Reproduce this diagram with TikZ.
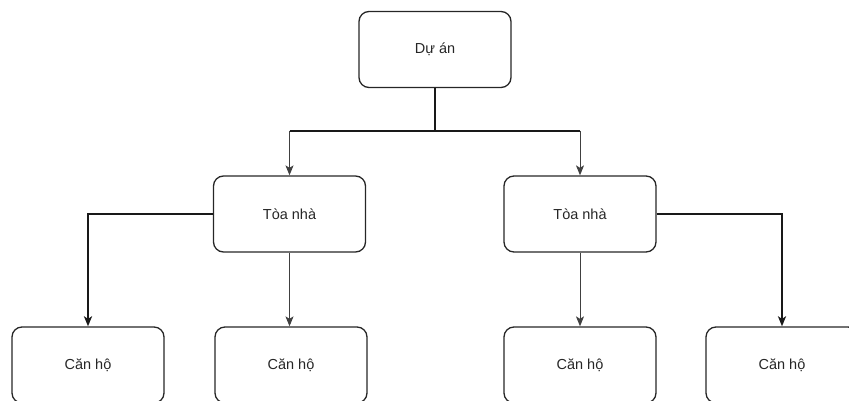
\documentclass[tikz,border=0pt]{standalone}
\usepackage{fontspec}
\setmainfont{Liberation Sans}
\usetikzlibrary{arrows.meta}
\begin{document}
\begin{tikzpicture}[x=1pt,y=-1pt,
  box/.style={draw=black!85, line width=1.3pt, rounded corners=10pt,
    minimum width=152pt, minimum height=76pt, inner sep=0pt,
    font=\fontsize{14.5}{17}\selectfont, text=black!85},
  thin/.style={draw=black!75, line width=1pt},
  thick/.style={draw=black!90, line width=2pt},
  tip/.style={-{Stealth[length=10pt,width=8pt,inset=2.5pt]}}]
\useasboundingbox (0,0) rectangle (849,401);
\begin{scope}
\clip (0,0) rectangle (849,401);
% nodes
\node[box] (proj) at (435,49.5) {Dự án};
\node[box] (b1) at (289.5,214) {Tòa nhà};
\node[box] (b2) at (580,214) {Tòa nhà};
\node[box] (a1) at (88,365) {Căn hộ};
\node[box] (a2) at (291,365) {Căn hộ};
\node[box] (a3) at (580,365) {Căn hộ};
\node[box] (a4) at (782,365) {Căn hộ};
% project to buildings
\coordinate (j) at (435,131);
\draw[thick] (proj.south) -- (j);
\draw[line width=1.5pt, draw=black!90] (289.5,131) -- (580,131);
\draw[thin,tip] (289.5,131) -- (b1.north);
\draw[thin,tip] (580,131) -- (b2.north);
% buildings to apartments
\draw[thick,tip] (b1.west) -| (a1.north);
\draw[thin,tip] (b1.south) -- (b1.south |- a2.north);
\draw[thin,tip] (b2.south) -- (a3.north);
\draw[thick,tip] (b2.east) -| (a4.north);
\end{scope}
\end{tikzpicture}
\end{document}
